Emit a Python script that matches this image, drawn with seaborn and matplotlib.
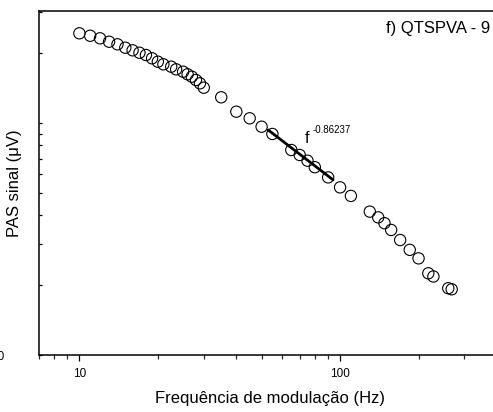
import numpy as np
import pandas as pd
import matplotlib
matplotlib.use("Agg")
import matplotlib.pyplot as plt
import matplotlib.ticker as mticker
import seaborn as sns

# ---- data ----
freq = [10, 11, 12, 13, 14, 15, 16, 17, 18, 19, 20, 21, 22.5, 23.5, 25, 26, 27, 28, 29, 30,
        35, 40, 45, 50, 55, 65, 70, 75, 80, 90, 100, 110,
        130, 140, 148, 157, 170, 185, 200, 218, 228, 260, 268]
signal = [243.6, 237.8, 231.8, 224.1, 218.4, 211.2, 205.8, 200.9, 196.4, 190.1, 183.8, 179.1,
          174.9, 170.4, 166.4, 162.2, 158.4, 153.3, 148.3, 142.0,
          129.1, 111.9, 104.8, 96.4, 89.7, 76.5, 72.8, 68.8, 64.5, 58.3, 52.8, 48.5,
          41.5, 39.2, 37.0, 34.6, 31.3, 28.4, 26.1, 22.5, 21.8, 19.4, 19.2]
fit_freq = [53, 94]
fit_signal = [93.3, 56.9]
fit_label = "-0.86237"
panel_label = "f) QTSPVA - 9"
x_label = "Frequência de modulação (Hz)"
y_label = "PAS sinal (\u03bcV)"
x_major = [10, 100]
x_major_labels = ["10", "100"]
y_major = [10, 100]
y_major_labels = ["10", ""]

df = pd.DataFrame({"f": freq, "s": signal})
dfit = pd.DataFrame({"f": fit_freq, "s": fit_signal})

sns.set_theme(style="ticks")
plt.rcParams["font.family"] = ["Liberation Sans", "DejaVu Sans"]

fig = plt.figure(figsize=(4.93, 4.12), dpi=100)
W = 462
ax = fig.add_axes([39 / 493, 57 / 412, W / 493, 344 / 412])

sns.lineplot(data=dfit, x="f", y="s", ax=ax, color="black", linewidth=2.0, zorder=3)
sns.scatterplot(data=df, x="f", y="s", ax=ax, marker="o", s=66,
                facecolor="none", edgecolor="black", linewidth=0.8, zorder=4)

ax.set_xscale("log")
ax.set_yscale("log")
ax.set_xlim(7, 7 * 10 ** (W / 260.7))
ax.set_ylim(10, 304)

ax.xaxis.set_major_locator(mticker.FixedLocator(x_major))
ax.xaxis.set_major_formatter(mticker.FixedFormatter(x_major_labels))
ax.xaxis.set_minor_locator(mticker.LogLocator(base=10, subs=np.arange(2, 10)))
ax.xaxis.set_minor_formatter(mticker.NullFormatter())
ax.yaxis.set_major_locator(mticker.FixedLocator(y_major))
ax.yaxis.set_major_formatter(mticker.FixedFormatter(y_major_labels))
ax.yaxis.set_minor_locator(mticker.LogLocator(base=10, subs=np.arange(2, 10)))
ax.yaxis.set_minor_formatter(mticker.NullFormatter())

ax.tick_params(axis="x", which="major", direction="out", length=4.5, width=0.9,
               labelsize=8.5, pad=5, colors="black")
ax.tick_params(axis="x", which="minor", direction="out", length=3, width=0.9)
ax.tick_params(axis="y", which="both", direction="in", length=2.5, width=0.9,
               labelsize=8.5, pad=25, colors="black")

for side in ["left", "bottom", "top"]:
    ax.spines[side].set_visible(True)
    ax.spines[side].set_color("black")
    ax.spines[side].set_linewidth(1.1)
ax.spines["right"].set_visible(False)

ax.set_xlabel(x_label, fontsize=12, labelpad=8, color="black")
ax.set_ylabel(y_label, fontsize=12, color="black")
ax.yaxis.set_label_coords(-(39 - 22) / W, 0.5)

ax.text(74.7, 86.1, "f", fontsize=11.5, ha="center", va="center", color="black")
ax.text(78.5, 93.5, fit_label, fontsize=7, ha="left", va="center", color="black")
fig.text(490 / 493, 1 - 28 / 412, panel_label, fontsize=12, ha="right", va="center", color="black")

fig.savefig("out.png", dpi=100)
